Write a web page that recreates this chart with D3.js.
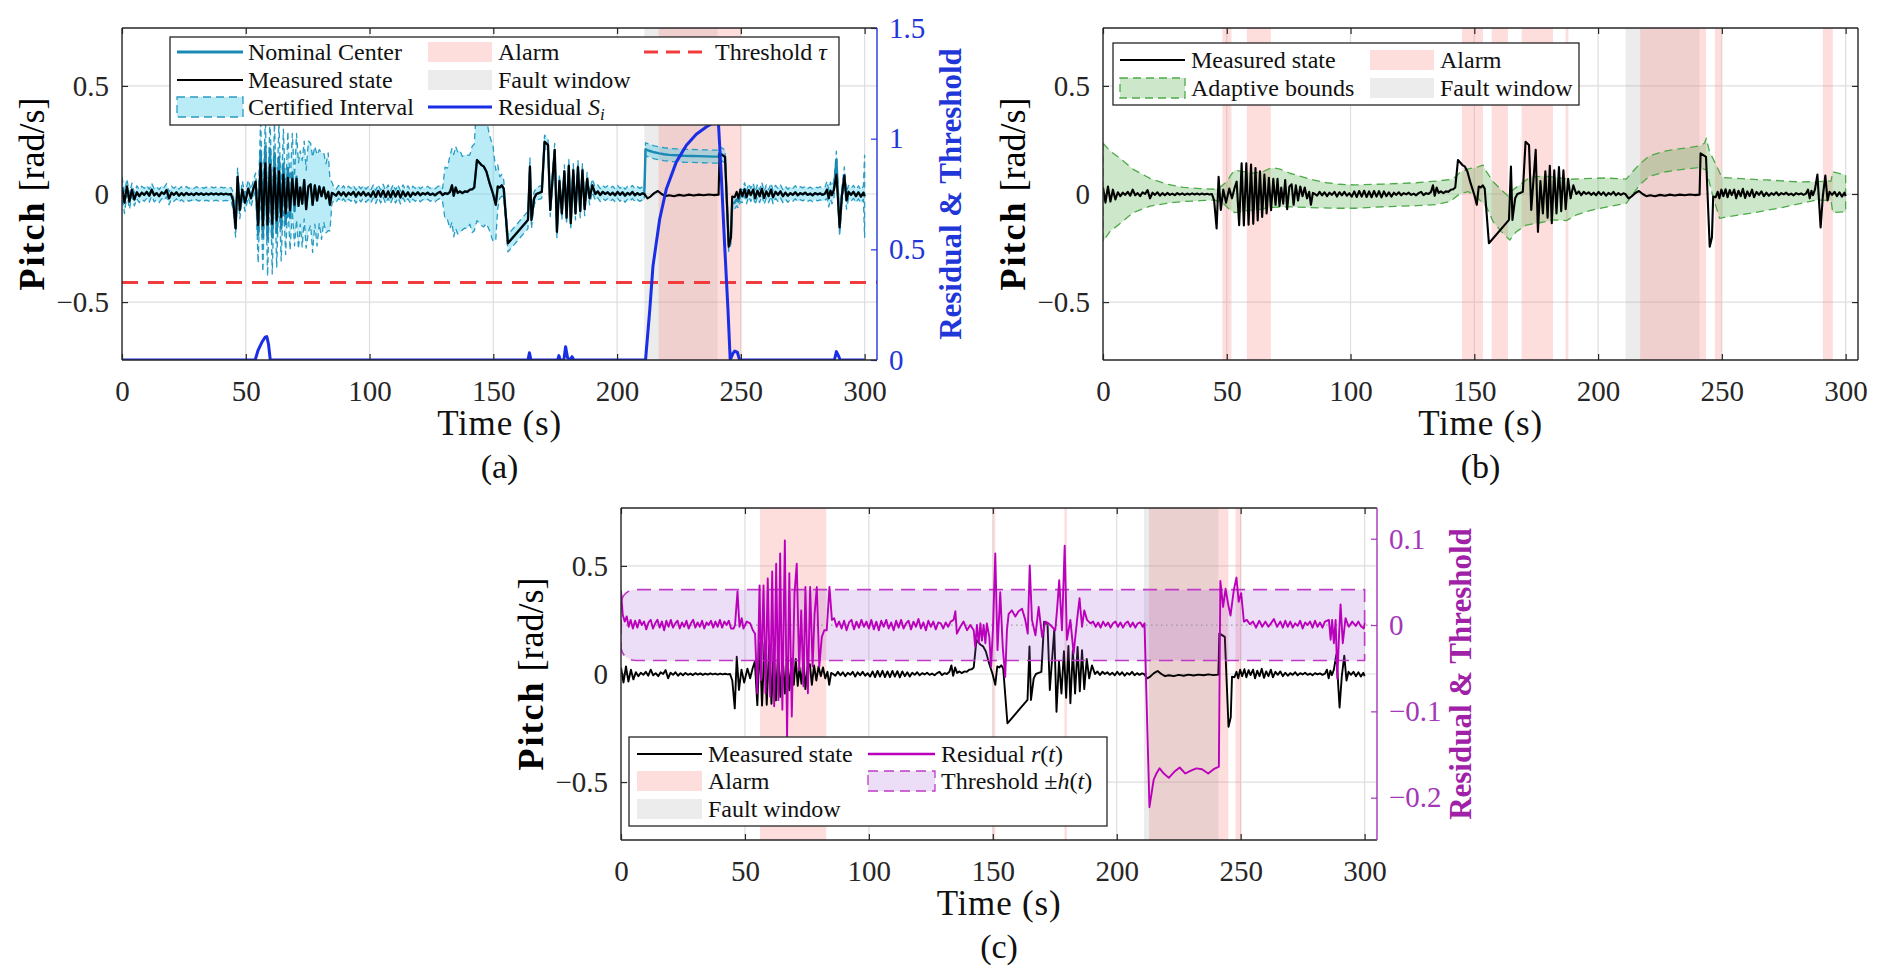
<!DOCTYPE html>
<html>
<head>
<meta charset="utf-8">
<script src="https://cdn.jsdelivr.net/npm/d3@7"></script>
<style>
  body { margin: 0; background: #fff; }
  svg { display: block; }
  text { font-family: "Liberation Serif", "Times New Roman", serif; }
</style>
</head>
<body>
<svg id="fig" width="1884" height="977"></svg>
<script>
// ---- data ----
const timeTicks = [0, 50, 100, 150, 200, 250, 300];
const pitchTicks = [-0.5, 0, 0.5];
const residualSTicks = [0, 0.5, 1, 1.5];
const residualRTicks = [-0.2, -0.1, 0, 0.1];
const thresholdTau = [0.35];

// measured pitch rate [t, rad/s], shared by all three panels
const measuredState = [
  [0,0.03],[1,-0.04],[2,0.035],[3,-0.035],[4,0.02],[5,-0.025],[6,0.008],[7,-0.01],[8,0.006],[9,-0.004],
  [10,0.01],[11,-0.008],[12,0.02],[13,-0.006],[14,0.004],[15,-0.01],[16,0.008],[17,0.0],[18,0.018],[19,-0.02],
  [20,0.006],[21,-0.004],[22,0.008],[23,-0.008],[24,0.004],[25,-0.006],[26,0.005],[27,-0.004],[28,0.002],[29,-0.005],
  [30,0.004],[31,-0.003],[32,0.003],[33,-0.004],[34,0.002],[35,-0.003],[36,0.003],[37,-0.002],[38,0.002],[39,-0.003],
  [40,0.002],[41,-0.002],[42,0.001],[43,-0.002],[44,0.0],[44.9,-0.03],[45.9,-0.159],[46.7,0.08],[47.6,-0.074],[48.6,0.02],
  [49.7,-0.04],[51,0.025],[52.1,-0.02],[53.2,0.03],[54,0.057],[55,-0.144],[56,0.142],[56.9,-0.146],[57.9,0.142],[58.8,-0.142],
  [59.8,0.136],[60.7,-0.138],[61.6,0.12],[62.5,-0.122],[63.4,0.105],[64.3,-0.106],[65.2,0.09],[66.1,-0.09],[67,0.075],[67.9,-0.075],
  [68.8,0.07],[69.7,-0.05],[70.5,0.07],[71.3,-0.055],[72,0.03],[72.8,-0.045],[73.6,0.065],[74.4,-0.07],[75.3,0.035],[76.2,0.045],
  [77,-0.05],[77.9,0.04],[78.8,-0.03],[79.7,0.035],[80.6,-0.01],[81.5,0.03],[82.4,-0.02],[83.3,0.01],[84,-0.05],[84.8,0.005],
  [85.6,0.0],[86.5,-0.008],[87.5,0.01],[88.5,-0.006],[89.5,0.008],[90.5,-0.01],[91.5,0.006],[92.5,-0.004],[93.5,0.01],[94.5,-0.012],
  [95.5,0.008],[96.5,-0.006],[97.5,0.01],[98.5,-0.008],[99.5,0.004],[100.5,-0.012],[101.5,0.012],[102.5,-0.014],[103.5,0.014],[104.5,-0.012],
  [105.5,0.015],[106.5,-0.014],[107.5,0.012],[108.5,-0.015],[109.5,0.014],[110.5,-0.012],[111.5,0.013],[112.5,-0.016],[113.5,0.012],[114.5,-0.01],
  [115.5,0.008],[116.5,-0.012],[117.5,0.006],[118.5,-0.004],[119.5,0.008],[120.5,-0.006],[121.5,0.004],[122.5,-0.002],[123.5,0.006],[124.5,-0.004],
  [125.5,0.002],[126.5,-0.006],[127.5,0.004],[128.5,0.01],[129.5,-0.005],[130.5,0.004],[131.5,0.0],[132.5,0.01],[133.3,0.04],[134,-0.008],
  [134.8,0.03],[135.6,0.005],[136.5,0.012],[137.5,0.004],[138.5,0.012],[139.5,0.01],[140.5,0.02],[141.5,0.022],[142.3,0.03],[143.4,0.157],
  [145.2,0.134],[146.1,0.128],[147.2,0.104],[148.5,0.05],[149.9,0.0],[151,-0.05],[151.8,0.035],[152.6,0.03],[153.4,0.04],[154.2,0.025],
  [155.9,-0.228],[163.4,-0.128],[164,-0.12],[164.8,0.127],[165.4,-0.12],[166.5,-0.02],[167.4,0.0],[168.5,0.005],[169.6,0.01],[170.7,0.242],
  [172.1,0.227],[173,-0.074],[174.8,0.204],[175.7,-0.175],[176.7,0.06],[177.7,-0.09],[178.7,0.105],[179.6,-0.11],[180.5,0.13],[181.3,-0.135],
  [182.3,0.11],[183.2,-0.09],[184.2,0.125],[185.1,-0.08],[186,0.11],[186.9,-0.07],[187.9,0.07],[188.9,-0.02],[190,0.04],[191.2,0.0],
  [192.2,0.012],[193.2,-0.005],[194.2,0.01],[195.2,0.0],[196.2,0.008],[197.2,-0.004],[198.2,0.006],[199.2,-0.006],[200.2,0.01],[201.2,-0.004],
  [202.2,0.008],[203.2,-0.008],[204.2,0.005],[205.2,-0.003],[206.2,0.01],[207.2,-0.006],[208.2,0.004],[209.2,-0.004],[210.2,0.003],[211,0.0],
  [212.3,-0.02],[213.5,-0.012],[215,0.004],[216.5,0.014],[218,0.0],[219.5,-0.01],[221,-0.006],[223,-0.01],[225,-0.004],[227,-0.008],
  [229,-0.003],[231,-0.007],[233,-0.003],[235,-0.006],[237,-0.002],[239,-0.005],[241,-0.003],[241.4,0.188],[243.6,0.172],[245.1,-0.244],
  [246,-0.2],[246.5,-0.012],[247.5,-0.015],[248.3,0.01],[249,-0.02],[249.8,0.02],[250.6,-0.01],[251.5,0.022],[252.3,-0.015],[253.2,0.018],
  [254,-0.005],[255,0.02],[255.8,-0.02],[256.7,0.015],[257.6,-0.01],[258.5,0.024],[259.4,-0.018],[260.3,0.012],[261.2,-0.01],[262.2,0.02],
  [263,-0.015],[264,0.01],[265,-0.004],[266,0.012],[267,-0.01],[268,0.006],[269,-0.008],[270,0.004],[271,-0.004],[272,0.008],
  [273,-0.006],[274,0.004],[275,-0.002],[276,0.006],[277,-0.004],[278,0.002],[279,-0.006],[280,0.004],[281,-0.002],[282,0.003],
  [283,-0.004],[284,0.002],[284.8,0.02],[285.5,-0.02],[286.2,0.015],[286.8,-0.005],[287.6,0.02],[288.6,0.09],[289.9,-0.155],[290.8,-0.01],
  [291.8,0.085],[292.7,-0.03],[293.5,0.01],[294.5,-0.004],[295.5,0.01],[296.5,-0.01],[297.5,0.008],[298.5,-0.012],[299.5,0.006],[300,-0.01]
];

// nominal center: where it departs from the measured state
const nominalBurst = [
  [55,-0.19],[56,0.2],[56.9,-0.2],[57.9,0.22],[58.8,-0.21],[59.8,0.21],[60.7,-0.2],[61.6,0.19],[62.5,-0.18],
  [63.4,0.17],[64.3,-0.16],[65.2,0.14],[66.1,-0.14],[67,0.12],[67.9,-0.11],[68.8,0.1],[69.7,-0.08],[70.5,0.08]
];
const nominalFault = [
  [211,0.0],[211.5,0.207],[213,0.2],[215,0.193],[217,0.188],[219,0.184],[221,0.181],[224,0.179],[227,0.177],
  [230,0.176],[233,0.175],[236,0.174],[239,0.173],[241,0.173],[241.4,0.19],[243.6,0.174],[245.1,-0.235],
  [246,-0.2],[246.5,-0.045],[247.5,-0.04],[248.3,-0.025],[249,-0.035],[249.8,-0.005]
];
const nominalSpike = [[288.6,0.158]];

// certified interval half width, [start time, half width] held until the next start
const certHalfWidth = [
  [0,0.05],[2,0.035],[4,0.03],[44.5,0.04],[54.5,0.13],[55.5,0.15],[56.5,0.16],[57.5,0.13],[58.5,0.17],[59.5,0.15],
  [60.5,0.17],[61.5,0.14],[62.5,0.16],[63.5,0.15],[64.5,0.16],[65.5,0.14],[66.5,0.17],[67.5,0.15],[68.5,0.18],[69.5,0.16],
  [70.5,0.2],[71.5,0.17],[72.5,0.2],[73.5,0.18],[74.5,0.21],[75.5,0.19],[76.5,0.22],[77.5,0.18],[78.5,0.21],[79.5,0.17],
  [80.5,0.2],[81.5,0.16],[82.5,0.18],[83.5,0.12],[84.5,0.05],[85.2,0.03],[130.5,0.12],[132,0.17],[134,0.19],[137,0.17],
  [140,0.16],[141.5,0.2],[142.8,0.28],[146.5,0.24],[148,0.22],[150.5,0.16],[151.5,0.1],[152.5,0.05],[154,0.04],[166,0.03],
  [284.5,0.04],[293,0.03],[300,0.19]
];

// residual S_i (right axis of panel a)
const residualS = [
  [0,0],[53.8,0],[55,0.045],[56.5,0.08],[57.8,0.103],[58.5,0.106],[59.2,0.07],[59.9,0],[164,0],[164.6,0.033],
  [165.2,0],[176,0],[176.5,0.02],[177,0],[178.5,0],[179.2,0.06],[180,0.01],[181,0],[181.8,0.015],[182.5,0],
  [211.5,0],[213.2,0.227],[214.5,0.424],[217.2,0.636],[219.9,0.773],[223.9,0.894],[228,0.97],[232,1.02],[236,1.053],[240.1,1.08],
  [240.8,1.1],[242.1,0.833],[243.4,0.53],[244.8,0.227],[245.7,0],[246.8,0.03],[247.5,0.04],[248.6,0.035],[249.5,0],[287.8,0],
  [288.6,0.038],[289.4,0.02],[290.1,0],[300,0]
];

// adaptive bounds (panel b)
const adaptiveUpper = [
  [0,0.235],[2.8,0.2],[6.9,0.165],[12.2,0.114],[19,0.072],[25.7,0.046],[32.4,0.031],[39.2,0.025],[45.2,0.022],[47.2,0.03],
  [49.9,0.057],[52,0.093],[53.3,0.11],[56.7,0.104],[60.7,0.096],[64.7,0.104],[68.1,0.122],[71.5,0.115],[75.5,0.096],[79.5,0.083],
  [84.9,0.065],[90.3,0.052],[95.7,0.045],[101.7,0.042],[113.2,0.046],[126.6,0.052],[134.7,0.06],[141.4,0.068],[144.1,0.099],[147.5,0.116],
  [150.8,0.123],[153.5,0.134],[154.9,0.103],[157.6,0.057],[160.9,0.019],[163.6,-0.009],[165.6,0.019],[168.3,0.042],[172.4,0.077],[177.8,0.083],
  [183.1,0.077],[188.5,0.068],[193.9,0.071],[202.7,0.074],[211.4,0.069],[213.4,0.096],[216.8,0.139],[220.8,0.177],[227.5,0.2],[234.2,0.211],
  [241,0.222],[243,0.235],[243.7,0.258],[245,0.196],[247.7,0.134],[250,0.077],[254.4,0.073],[267.9,0.065],[281.4,0.056],[288.1,0.057],
  [294.1,0.06],[294.8,0.103],[300,0.088]
];
const adaptiveLower = [
  [0,-0.22],[2.8,-0.174],[6.9,-0.136],[12.2,-0.086],[19,-0.056],[25.7,-0.043],[32.4,-0.035],[39.2,-0.031],[45.2,-0.028],[48.6,-0.043],
  [51.3,-0.074],[53.3,-0.086],[58,-0.077],[63.4,-0.071],[67.4,-0.062],[74.2,-0.059],[82.2,-0.062],[93,-0.066],[101.7,-0.066],[113.2,-0.059],
  [126.6,-0.054],[134.7,-0.049],[140.1,-0.035],[144.1,0.0],[147.5,0.011],[150.8,-0.012],[154.9,-0.059],[157.6,-0.128],[160.9,-0.174],[164.3,-0.213],
  [167,-0.174],[171,-0.144],[176.4,-0.133],[181.8,-0.12],[187.2,-0.123],[191.2,-0.097],[196.6,-0.077],[202.7,-0.062],[211.4,-0.043],[213.4,-0.012],
  [216.8,0.042],[220.8,0.083],[227.5,0.103],[234.2,0.114],[241,0.123],[243.7,0.111],[246.4,-0.012],[249.1,-0.113],[250,-0.11],[261.2,-0.09],
  [274.6,-0.062],[288.1,-0.028],[294.1,-0.03],[294.8,-0.086],[300,-0.082]
];

// residual r(t) and threshold h(t) (panel c, right axis)
const residualR = [
  [0,0.04],[0.7,0.012],[1.5,0.004],[2.3,0.01],[3.1,-0.002],[3.9,0.006],[4.8,-0.004],[5.7,0.005],[6.6,-0.003],[7.5,0.006],
  [8.4,0.0],[9.3,0.004],[10.2,-0.005],[11.1,0.003],[12,0.006],[12.9,-0.004],[13.8,0.002],[14.7,0.006],[15.6,-0.003],[16.5,0.004],
  [17.4,-0.006],[18.3,0.005],[19.2,-0.002],[20.1,0.006],[21,-0.003],[21.9,0.002],[22.8,0.005],[23.7,-0.004],[24.6,0.003],[25.5,-0.002],
  [26.4,0.005],[27.3,-0.004],[28.2,0.002],[29.1,0.006],[30,-0.003],[30.9,0.003],[31.8,-0.002],[32.7,0.005],[33.6,-0.004],[34.5,0.003],
  [35.4,0.0],[36.3,0.005],[37.2,-0.003],[38.1,0.004],[39,-0.002],[39.9,0.006],[40.8,-0.003],[41.7,0.004],[42.6,0.0],[43.5,0.005],
  [44.4,-0.004],[45.4,-0.004],[46,0.0],[47,0.039],[47.8,-0.002],[48.7,0.008],[49.4,-0.004],[50.7,0.004],[52.1,0.002],[53.2,-0.006],
  [54.1,-0.01],[55,-0.079],[55.9,0.046],[56.5,-0.064],[57.5,0.046],[58.3,-0.079],[59.2,0.054],[60.2,-0.083],[61,0.062],[61.8,-0.094],
  [62.6,0.071],[63.5,-0.087],[64.2,0.083],[65.1,-0.098],[66.1,0.098],[67,-0.129],[67.9,0.06],[68.9,-0.106],[70,0.037],[70.9,0.071],
  [71.9,-0.052],[72.7,0.017],[73.6,-0.071],[74.4,0.044],[75.4,-0.079],[76.3,0.044],[77.3,-0.048],[78.1,0.013],[79,0.044],[80,-0.048],
  [81,-0.014],[82,-0.006],[83,-0.006],[84.1,0.044],[85.1,0.006],[86,0.008],[87,-0.002],[88,0.004],[89,-0.004],[90,0.005],
  [91,-0.006],[92,0.003],[93,0.006],[94,-0.005],[95,0.004],[96,-0.003],[97,0.006],[98,-0.002],[99,0.004],[100,-0.004],
  [101,0.006],[102,-0.005],[103,0.004],[104,-0.006],[105,0.005],[106,-0.002],[107,0.006],[108,-0.004],[109,0.003],[110,-0.006],
  [111,0.005],[112,-0.003],[113,0.006],[114,-0.004],[115,0.002],[116,0.005],[117,-0.005],[118,0.004],[119,-0.002],[120,0.007],
  [121,-0.004],[122,0.003],[123,-0.006],[124,0.005],[125,-0.002],[126,0.004],[127,-0.005],[128,0.003],[129,0.002],[130,-0.004],
  [131,0.003],[132,-0.002],[133,0.004],[134.2,0.006],[134.9,0.016],[135.5,-0.01],[136.9,-0.002],[138.2,0.004],[139.6,-0.006],[140.9,0.0],
  [142.3,-0.006],[142.9,-0.025],[143.6,0.0],[144.3,-0.021],[145,0.002],[145.6,-0.018],[146.3,0.0],[147,-0.021],[147.6,0.002],[148.6,-0.014],
  [149.3,-0.048],[150.1,-0.002],[151,0.083],[151.9,-0.029],[153,0.038],[154,-0.025],[155,-0.06],[155.7,-0.006],[156.4,0.013],[157.7,0.017],
  [159.1,0.01],[160.4,0.016],[161.8,0.019],[163.1,0.006],[164.1,-0.01],[164.9,0.069],[165.8,0.006],[167.2,-0.012],[168.5,0.021],[169.9,-0.014],
  [171.2,0.004],[172.5,0.002],[173.9,-0.002],[175.2,-0.006],[175.9,0.017],[176.8,0.052],[177.9,-0.006],[179,0.092],[179.9,-0.017],[181.3,0.006],
  [182.6,-0.033],[184,0.006],[185,0.031],[186,-0.002],[186.9,0.017],[188,0.006],[189.4,0.002],[190.5,0.004],[191.5,-0.002],[192.5,0.003],
  [193.5,-0.003],[194.5,0.004],[195.5,-0.001],[196.5,0.003],[197.5,-0.003],[198.5,0.002],[199.5,0.004],[200.5,-0.002],[201.5,0.003],[202.5,-0.003],
  [203.5,0.002],[204.5,0.004],[205.5,-0.002],[206.5,0.003],[207.5,-0.003],[208.5,0.002],[209.5,0.003],[210.5,-0.002],[211.2,0.002],[213.2,-0.211],
  [214.9,-0.179],[216,-0.172],[217.3,-0.166],[219,-0.172],[221,-0.177],[223.2,-0.17],[225.4,-0.165],[227.7,-0.172],[229.7,-0.169],[232.1,-0.166],
  [234.4,-0.167],[236.9,-0.172],[239.1,-0.167],[241.2,-0.164],[241.8,0.051],[242.9,0.021],[243.9,0.042],[244.9,0.025],[245.9,0.011],[247.2,0.04],
  [248.3,0.055],[249.2,0.027],[250.2,0.037],[251.3,0.004],[252.5,0.006],[253.7,0.001],[255,0.004],[256.2,-0.003],[257.5,0.005],[258.7,-0.002],
  [260,0.004],[261.2,-0.002],[262.2,0.002],[263.4,0.007],[264.7,-0.002],[266,0.004],[267,-0.003],[268,0.005],[269,-0.002],[270,0.004],
  [271,-0.003],[272,0.002],[273,-0.001],[274,0.005],[275,-0.004],[276,0.003],[277,0.0],[278,0.004],[279,-0.003],[280,0.005],
  [281,-0.002],[282,0.003],[283,-0.003],[284,0.004],[285.6,0.006],[286.3,-0.017],[286.9,0.006],[287.6,-0.021],[288.3,0.006],[289,-0.062],
  [289.6,-0.017],[290.3,0.024],[291.2,-0.021],[292.3,0.008],[293.6,-0.002],[295,0.004],[296.4,-0.001],[297.5,0.004],[298.4,-0.001],[299.7,-0.004],[300,0.002]
];
const thresholdH = [[0,0.027],[0.5,0.031],[1,0.034],[2,0.037],[3,0.039],[4.5,0.0405],[6,0.041],[300,0.041]];

// alarm and fault windows [start, end] in seconds
const faultA = [[211, 240.6]];
const alarmA = [[216.8, 250.2]];
const faultB = [[211.1, 241]];
const alarmB = [[48.2,51.9],[58.1,67.8],[145,153.5],[157,163.6],[169.1,181.8],[186.9,188],[217,243.6],[247.2,249.9],[290.8,294.8]];
const faultC = [[211, 241]];
const alarmC = [[56.1,82.8],[150,151],[178.9,179.9],[213,245],[247.9,250.2]];

// ---- derived series ----
const nominalWindows = [nominalBurst, nominalFault, nominalSpike];
const nominalCenter = measuredState
  .filter(([t]) => !nominalWindows.some(w => t >= w[0][0] && t <= w[w.length - 1][0]))
  .concat(...nominalWindows)
  .sort((a, b) => a[0] - b[0]);
function halfWidthAt(t) {
  let h = certHalfWidth[0][1];
  for (const [s, v] of certHalfWidth) if (t >= s) h = v;
  return h;
}
const certUpper = nominalCenter.map(([t, c]) => [t, c + halfWidthAt(t)]);
const certLower = nominalCenter.map(([t, c]) => [t, c - halfWidthAt(t)]);
const hUpper = thresholdH.map(([t, h]) => [t, h]);
const hLower = thresholdH.map(([t, h]) => [t, -h]);

// ---- style ----
const C = {
  axis: "#262626", grid: "#dedede",
  measured: "#000000", nominal: "#1a8ab4",
  certFill: "rgba(70,205,232,0.38)", certEdge: "#2a9bc2",
  residualS: "#1a2ee6", rightA: "#1f36d8", tau: "#f03c3c",
  alarm: "rgba(250,128,128,0.27)", fault: "rgba(160,160,160,0.2)",
  adaptFill: "rgba(90,175,80,0.3)", adaptEdge: "#4daa48",
  rLine: "#bb00bb", hFill: "rgba(160,90,215,0.2)", hEdge: "#c03ac8", rightC: "#a437b8",
  zeroDot: "#9a9a9a"
};
const TIME_DOMAIN = [0, 305];
const PITCH_DOMAIN = [-0.768, 0.768];
const fmt = d => d3.format("~g")(d);

const svg = d3.select("#fig");
const defs = svg.append("defs");
let clipSeq = 0;

function makePanel(box) {
  const x = d3.scaleLinear().domain(TIME_DOMAIN).range([box.left, box.right]);
  const y = d3.scaleLinear().domain(PITCH_DOMAIN).range([box.bottom, box.top]);
  const g = svg.append("g");
  const id = "plotclip" + (++clipSeq);
  defs.append("clipPath").attr("id", id).append("rect")
    .attr("x", box.left).attr("y", box.top)
    .attr("width", box.right - box.left).attr("height", box.bottom - box.top);
  const plot = g.append("g").attr("clip-path", `url(#${id})`);
  plot.append("g").selectAll("line").data(timeTicks).join("line")
    .attr("x1", d => x(d)).attr("x2", d => x(d))
    .attr("y1", box.top).attr("y2", box.bottom)
    .attr("stroke", C.grid).attr("stroke-width", 1.2);
  plot.append("g").selectAll("line").data(pitchTicks).join("line")
    .attr("x1", box.left).attr("x2", box.right)
    .attr("y1", d => y(d)).attr("y2", d => y(d))
    .attr("stroke", C.grid).attr("stroke-width", 1.2);
  return { box, x, y, g, plot };
}

function drawSpans(p, spans, fill) {
  p.plot.append("g").selectAll("rect").data(spans).join("rect")
    .attr("x", d => p.x(d[0])).attr("width", d => p.x(d[1]) - p.x(d[0]))
    .attr("y", p.box.top).attr("height", p.box.bottom - p.box.top)
    .attr("fill", fill);
}

function drawBand(p, yScale, upper, lower, fill, edge, dash, width) {
  const l = d3.line().x(d => p.x(d[0])).y(d => yScale(d[1]));
  p.plot.append("path")
    .attr("d", l(upper.concat(lower.slice().reverse())) + "Z")
    .attr("fill", fill).attr("stroke", edge)
    .attr("stroke-width", width).attr("stroke-dasharray", dash)
    .attr("stroke-linejoin", "round");
}

function drawLine(p, yScale, data, color, width, dash) {
  const l = d3.line().x(d => p.x(d[0])).y(d => yScale(d[1]));
  p.plot.append("path").datum(data).attr("d", l)
    .attr("fill", "none").attr("stroke", color).attr("stroke-width", width)
    .attr("stroke-dasharray", dash || null).attr("stroke-linejoin", "round");
}

function styleAxis(sel, color) {
  sel.attr("font-size", null).attr("font-family", null).attr("fill", null);
  sel.select(".domain").remove();
  sel.selectAll(".tick line").attr("stroke", color).attr("stroke-width", 1.2);
  sel.selectAll(".tick text").attr("fill", color).attr("font-size", 29);
}

function drawFrame(p, right) {
  const { box, x, y, g } = p;
  g.append("g").attr("transform", `translate(0,${box.bottom})`)
    .call(d3.axisBottom(x).tickValues(timeTicks).tickFormat(d3.format("d"))
      .tickSizeInner(-6).tickSizeOuter(0).tickPadding(20))
    .call(s => styleAxis(s, C.axis));
  g.append("g").attr("transform", `translate(0,${box.top})`)
    .call(d3.axisTop(x).tickValues(timeTicks).tickFormat(() => "")
      .tickSizeInner(-6).tickSizeOuter(0))
    .call(s => styleAxis(s, C.axis));
  g.append("g").attr("transform", `translate(${box.left},0)`)
    .call(d3.axisLeft(y).tickValues(pitchTicks).tickFormat(fmt)
      .tickSizeInner(-6).tickSizeOuter(0).tickPadding(13))
    .call(s => styleAxis(s, C.axis));
  let rightColor = C.axis;
  if (right) {
    rightColor = right.color;
    g.append("g").attr("transform", `translate(${box.right},0)`)
      .call(d3.axisRight(right.scale).tickValues(right.ticks).tickFormat(fmt)
        .tickSizeInner(-6).tickSizeOuter(0).tickPadding(12))
      .call(s => styleAxis(s, right.color));
  } else {
    g.append("g").attr("transform", `translate(${box.right},0)`)
      .call(d3.axisRight(y).tickValues(pitchTicks).tickFormat(() => "")
        .tickSizeInner(-6).tickSizeOuter(0))
      .call(s => styleAxis(s, C.axis));
  }
  const frame = g.append("g").attr("stroke-width", 1.4).attr("fill", "none");
  frame.append("line").attr("x1", box.left).attr("x2", box.right).attr("y1", box.top).attr("y2", box.top).attr("stroke", C.axis);
  frame.append("line").attr("x1", box.left).attr("x2", box.right).attr("y1", box.bottom).attr("y2", box.bottom).attr("stroke", C.axis);
  frame.append("line").attr("x1", box.left).attr("x2", box.left).attr("y1", box.top).attr("y2", box.bottom).attr("stroke", C.axis);
  frame.append("line").attr("x1", box.right).attr("x2", box.right).attr("y1", box.top).attr("y2", box.bottom).attr("stroke", rightColor);
}

function axisTitles(p, tag, leftX, right) {
  const { box } = p;
  const cx = (box.left + box.right) / 2, cy = (box.top + box.bottom) / 2;
  const yl = svg.append("text").attr("transform", `translate(${leftX},${cy}) rotate(-90)`)
    .attr("text-anchor", "middle").attr("font-size", 36).attr("fill", "#000");
  yl.append("tspan").attr("font-weight", "bold").attr("letter-spacing", 2).text("Pitch");
  yl.append("tspan").text(" [rad/s]");
  svg.append("text").attr("x", cx).attr("y", box.bottom + 75).attr("text-anchor", "middle")
    .attr("font-size", 35).attr("letter-spacing", 0.8).attr("fill", "#111").text("Time (s)");
  svg.append("text").attr("x", cx).attr("y", box.bottom + 118).attr("text-anchor", "middle")
    .attr("font-size", 34).attr("fill", "#111").text(tag);
  if (right) {
    svg.append("text").attr("transform", `translate(${right.x},${cy}) rotate(-90)`)
      .attr("text-anchor", "middle").attr("font-size", 31).attr("font-weight", "bold")
      .attr("fill", right.color).text("Residual & Threshold");
  }
}

// ---- legend helpers ----
function legendBox(b) {
  const g = svg.append("g");
  g.append("rect").attr("x", b.x).attr("y", b.y).attr("width", b.w).attr("height", b.h)
    .attr("fill", "#fff").attr("stroke", C.axis).attr("stroke-width", 1.3);
  return g;
}
function legendLine(g, x0, x1, y, color, width, dash) {
  g.append("line").attr("x1", x0).attr("x2", x1).attr("y1", y).attr("y2", y)
    .attr("stroke", color).attr("stroke-width", width).attr("stroke-dasharray", dash || null);
}
function legendSwatch(g, x0, x1, y, fill, edge, dash) {
  g.append("rect").attr("x", x0).attr("y", y - 10).attr("width", x1 - x0).attr("height", 20)
    .attr("fill", fill).attr("stroke", edge || "none").attr("stroke-width", 1.3)
    .attr("stroke-dasharray", dash || null);
}
function legendText(g, x, y, parts) {
  const t = g.append("text").attr("x", x).attr("y", y + 8).attr("font-size", 24).attr("fill", "#111");
  parts.forEach(part => {
    if (typeof part === "string") { t.append("tspan").text(part); return; }
    const s = t.append("tspan").text(part.text);
    if (part.italic) s.attr("font-style", "italic");
    if (part.sub) s.attr("font-size", 17).attr("dy", 5);
  });
}

// ---- panel (a) ----
const pA = makePanel({ left: 122, right: 877, top: 28, bottom: 360 });
const yRA = d3.scaleLinear().domain([0, 1.5]).range([pA.box.bottom, pA.box.top]);
drawSpans(pA, faultA, C.fault);
drawSpans(pA, alarmA, C.alarm);
drawBand(pA, pA.y, certUpper, certLower, C.certFill, C.certEdge, "6,4", 1.3);
drawLine(pA, pA.y, nominalCenter, C.nominal, 2.4);
drawLine(pA, pA.y, measuredState, C.measured, 2.1);
drawLine(pA, yRA, TIME_DOMAIN.map(t => [t, thresholdTau[0]]), C.tau, 3, "16,10");
drawLine(pA, yRA, residualS, C.residualS, 3);
drawFrame(pA, { scale: yRA, ticks: residualSTicks, color: C.rightA });
axisTitles(pA, "(a)", 44, { x: 961, color: C.rightA });
{
  const g = legendBox({ x: 170, y: 37, w: 669, h: 88 });
  legendLine(g, 177, 243, 52, C.nominal, 3);
  legendText(g, 248, 52, ["Nominal Center"]);
  legendSwatch(g, 428, 492, 52, C.alarm);
  legendText(g, 498, 52, ["Alarm"]);
  legendLine(g, 644, 710, 52, C.tau, 3, "14,8");
  legendText(g, 715, 52, ["Threshold ", { text: "τ", italic: true }]);
  legendLine(g, 177, 243, 80, C.measured, 2.2);
  legendText(g, 248, 80, ["Measured state"]);
  legendSwatch(g, 428, 492, 80, C.fault);
  legendText(g, 498, 80, ["Fault window"]);
  legendSwatch(g, 177, 243, 107, C.certFill, C.certEdge, "8,5");
  legendText(g, 248, 107, ["Certified Interval"]);
  legendLine(g, 428, 492, 107, C.residualS, 3);
  legendText(g, 498, 107, ["Residual ", { text: "S", italic: true }, { text: "i", italic: true, sub: true }]);
}

// ---- panel (b) ----
const pB = makePanel({ left: 1103, right: 1858, top: 28, bottom: 360 });
drawSpans(pB, faultB, C.fault);
drawSpans(pB, alarmB, C.alarm);
drawBand(pB, pB.y, adaptiveUpper, adaptiveLower, C.adaptFill, C.adaptEdge, "8,5", 1.3);
drawLine(pB, pB.y, measuredState, C.measured, 2.1);
drawFrame(pB, null);
axisTitles(pB, "(b)", 1025, null);
{
  const g = legendBox({ x: 1113, y: 43, w: 466, h: 62 });
  legendLine(g, 1120, 1185, 60, C.measured, 2.2);
  legendText(g, 1191, 60, ["Measured state"]);
  legendSwatch(g, 1370, 1434, 60, C.alarm);
  legendText(g, 1440, 60, ["Alarm"]);
  legendSwatch(g, 1120, 1185, 88, C.adaptFill, C.adaptEdge, "8,5");
  legendText(g, 1191, 88, ["Adaptive bounds"]);
  legendSwatch(g, 1370, 1434, 88, C.fault);
  legendText(g, 1440, 88, ["Fault window"]);
}

// ---- panel (c) ----
const pC = makePanel({ left: 621, right: 1377, top: 508, bottom: 840 });
const yRC = d3.scaleLinear().domain([-0.249, 0.1356]).range([pC.box.bottom, pC.box.top]);
drawSpans(pC, alarmC, C.alarm);
drawSpans(pC, faultC, C.fault);
drawLine(pC, pC.y, measuredState, C.measured, 1.9);
drawBand(pC, yRC, hUpper, hLower, C.hFill, C.hEdge, "14,8", 1.6);
drawLine(pC, yRC, TIME_DOMAIN.map(t => [t, 0]), C.zeroDot, 1.2, "1.5,3.5");
drawLine(pC, yRC, residualR, C.rLine, 1.9);
drawFrame(pC, { scale: yRC, ticks: residualRTicks, color: C.rightC });
axisTitles(pC, "(c)", 543, { x: 1471, color: "#a020a8" });
{
  const g = legendBox({ x: 629, y: 737, w: 478, h: 89 });
  legendLine(g, 637, 702, 754, C.measured, 2.2);
  legendText(g, 708, 754, ["Measured state"]);
  legendLine(g, 868, 935, 754, C.rLine, 2.4);
  legendText(g, 941, 754, ["Residual ", { text: "r", italic: true }, "(", { text: "t", italic: true }, ")"]);
  legendSwatch(g, 637, 702, 781, C.alarm);
  legendText(g, 708, 781, ["Alarm"]);
  legendSwatch(g, 868, 935, 781, C.hFill, C.hEdge, "10,6");
  legendText(g, 941, 781, ["Threshold ±", { text: "h", italic: true }, "(", { text: "t", italic: true }, ")"]);
  legendSwatch(g, 637, 702, 809, C.fault);
  legendText(g, 708, 809, ["Fault window"]);
}
</script>
</body>
</html>
